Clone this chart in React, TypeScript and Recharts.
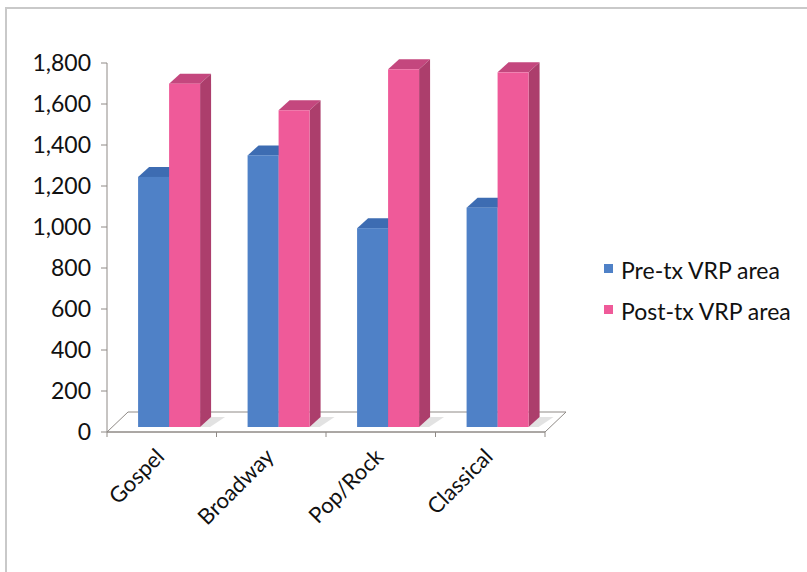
import { BarChart, Bar, XAxis, YAxis, ReferenceArea } from 'recharts'

const genres = ['Gospel', 'Broadway', 'Pop/Rock', 'Classical']
const preTx = [1220, 1325, 970, 1070]
const postTx = [1675, 1545, 1745, 1730]
const yTicks = [0, 200, 400, 600, 800, 1000, 1200, 1400, 1600, 1800]
const seriesNames = ['Pre-tx VRP area', 'Post-tx VRP area']

const data = genres.map((g, i) => ({ genre: g, pre: preTx[i], post: postTx[i] }))

const FONT = 'Lato, "Open Sans", sans-serif'
const AXIS = '#8f8a86'

// depth of the floor and of each bar in the fake 3d view
const FLOOR_DX = 21
const FLOOR_DY = 20
const BAR_DX = 11
const BAR_DY = 10
const OFF_X = 7
const OFF_Y = 5

type Faces = { front: string; top: string; side: string; shadow?: boolean }

const BLUE: Faces = { front: '#4f81c7', top: '#3d6cb2', side: '#375f9c' }
const PINK: Faces = { front: '#ef5a99', top: '#c4477e', side: '#ac3e6c', shadow: true }

function prism(c: Faces) {
  return (props: any) => {
    const { x, y, width, height } = props
    if (width == null || height == null) return <g />
    const fx = x + OFF_X
    const fy = y - OFF_Y
    const w = width
    const h = height
    const bottom = fy + h
    return (
      <g>
        {c.shadow && (
          <polygon
            points={`${fx + w},${bottom} ${fx + w + BAR_DX},${bottom - BAR_DY} ${fx + w + BAR_DX + 14},${bottom - BAR_DY} ${fx + w + 10},${bottom}`}
            fill="#cfcfcf"
            opacity={0.6}
          />
        )}
        <polygon
          points={`${fx},${fy} ${fx + BAR_DX},${fy - BAR_DY} ${fx + w + BAR_DX},${fy - BAR_DY} ${fx + w},${fy}`}
          fill={c.top}
        />
        <polygon
          points={`${fx + w},${fy} ${fx + w + BAR_DX},${fy - BAR_DY} ${fx + w + BAR_DX},${bottom - BAR_DY} ${fx + w},${bottom}`}
          fill={c.side}
        />
        <rect x={fx} y={fy} width={w} height={h} fill={c.front} />
      </g>
    )
  }
}

function Floor(props: any) {
  const { x, y, width, height } = props
  const b = y + height
  const step = width / genres.length
  return (
    <g>
      <polygon
        points={`${x},${b} ${x + FLOOR_DX},${b - FLOOR_DY} ${x + width + FLOOR_DX},${b - FLOOR_DY} ${x + width},${b}`}
        fill="#ffffff"
        stroke={AXIS}
        strokeWidth={1}
      />
      {genres.concat(['']).map((_, i) => (
        <line key={i} x1={x + i * step} y1={b} x2={x + i * step} y2={b + 5} stroke={AXIS} />
      ))}
    </g>
  )
}

function GenreTick(props: any) {
  const { x, y, payload } = props
  const tx = x + 4
  const ty = y + 18
  return (
    <text
      x={tx}
      y={ty}
      textAnchor="end"
      transform={`rotate(-45, ${tx}, ${ty})`}
      fontFamily={FONT}
      fontSize={22}
      fill="#111"
    >
      {payload.value}
    </text>
  )
}

function LegendBox() {
  const colors = [BLUE.front, PINK.front]
  return (
    <div
      style={{
        position: 'absolute',
        left: 604,
        top: 257,
        fontFamily: FONT,
        fontSize: 23,
        color: '#111',
        whiteSpace: 'nowrap',
      }}
    >
      {seriesNames.map((label, i) => (
        <div key={label} style={{ display: 'flex', alignItems: 'flex-start', height: 41 }}>
          <span style={{ width: 9, height: 9, background: colors[i], marginTop: 7, marginRight: 8 }} />
          <span style={{ lineHeight: '26px' }}>{label}</span>
        </div>
      ))}
    </div>
  )
}

export default function App() {
  return (
    <div style={{ position: 'absolute', left: 0, top: 0, width: 807, height: 572, background: '#fff' }}>
      <div
        style={{
          position: 'absolute',
          left: 5,
          top: 7,
          width: 802,
          height: 565,
          borderTop: '2px solid #c9c9c9',
          borderLeft: '2px solid #c9c9c9',
          boxSizing: 'border-box',
        }}
      />
      <div style={{ position: 'absolute', left: 0, top: 0 }}>
        <BarChart
          width={807}
          height={572}
          data={data}
          margin={{ top: 63, right: 262, bottom: 0, left: 7 }}
          barCategoryGap="22%"
          barGap={0}
        >
          <XAxis
            dataKey="genre"
            height={140}
            axisLine={{ stroke: AXIS }}
            tickLine={false}
            tick={<GenreTick />}
            interval={0}
          />
          <YAxis
            width={100}
            domain={[0, 1800]}
            ticks={yTicks}
            axisLine={{ stroke: AXIS }}
            tickLine={{ stroke: AXIS }}
            tickSize={6}
            tickMargin={10}
            tickFormatter={(v: number) => v.toLocaleString('en-US')}
            tick={{ fontFamily: FONT, fontSize: 23, fill: '#111' }}
          />
          <ReferenceArea y1={0} y2={200} shape={<Floor />} ifOverflow="visible" />
          <Bar dataKey="pre" name={seriesNames[0]} fill={BLUE.front} shape={prism(BLUE)} isAnimationActive={false} />
          <Bar dataKey="post" name={seriesNames[1]} fill={PINK.front} shape={prism(PINK)} isAnimationActive={false} />
        </BarChart>
      </div>
      <LegendBox />
    </div>
  )
}
